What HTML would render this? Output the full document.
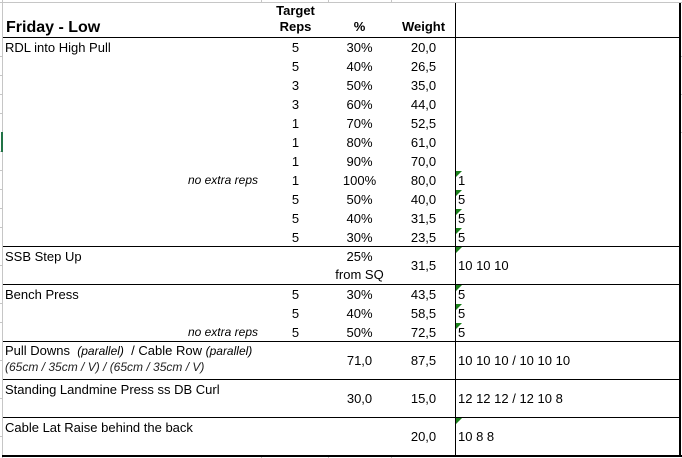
<!DOCTYPE html>
<html><head><meta charset="utf-8">
<style>
html,body{margin:0;padding:0;background:#fff;}
#c{position:relative;width:682px;height:458px;overflow:hidden;background:#fff;}
.t{position:absolute;font-family:"Liberation Sans",Arial,sans-serif;font-size:13px;line-height:19px;white-space:nowrap;color:#000;}
.b{font-weight:bold;}
.i{font-style:italic;}
.r{width:67px;left:262px;text-align:center;}
.p{width:63px;left:328px;text-align:center;}
.w{width:63px;left:392px;text-align:center;}
.x{left:458px;}
.h{position:absolute;height:1px;background:#000;left:3px;width:678px;}
.g{position:absolute;background:#c6c6c6;}
.tri{position:absolute;left:456px;width:0;height:0;border-top:6px solid #1a7f1a;border-right:6px solid transparent;}
</style></head><body>
<div id="c">
<!-- grey grid bits -->
<div class="g" style="left:0;top:2px;width:682px;height:1px;"></div>
<div class="g" style="left:2px;top:0;width:1px;height:458px;"></div>
<div class="g" style="left:261px;top:0;width:1px;height:3px;"></div>
<div class="g" style="left:328px;top:0;width:1px;height:3px;"></div>
<div class="g" style="left:391px;top:0;width:1px;height:3px;"></div>
<div class="g" style="left:261px;top:456px;width:1px;height:2px;"></div>
<div class="g" style="left:328px;top:456px;width:1px;height:2px;"></div>
<div class="g" style="left:391px;top:456px;width:1px;height:2px;"></div>
<div class="g" style="left:0;top:56px;width:3px;height:1px;"></div>
<div class="g" style="left:0;top:75px;width:3px;height:1px;"></div>
<div class="g" style="left:0;top:94px;width:3px;height:1px;"></div>
<div class="g" style="left:0;top:113px;width:3px;height:1px;"></div>
<div class="g" style="left:0;top:151px;width:3px;height:1px;"></div>
<div class="g" style="left:0;top:170px;width:3px;height:1px;"></div>
<div class="g" style="left:0;top:189px;width:3px;height:1px;"></div>
<div class="g" style="left:0;top:208px;width:3px;height:1px;"></div>
<div class="g" style="left:0;top:227px;width:3px;height:1px;"></div>
<div class="g" style="left:0;top:265px;width:3px;height:1px;"></div>
<div class="g" style="left:0;top:303px;width:3px;height:1px;"></div>
<div class="g" style="left:0;top:322px;width:3px;height:1px;"></div>
<div class="g" style="left:0;top:360px;width:3px;height:1px;"></div>
<div class="g" style="left:0;top:398px;width:3px;height:1px;"></div>
<div class="g" style="left:0;top:436px;width:3px;height:1px;"></div>
<div style="position:absolute;left:1px;top:132px;width:2px;height:20px;background:#217346;"></div>
<div class="g" style="left:681px;top:56px;width:1px;height:1px;"></div>
<div class="g" style="left:681px;top:94px;width:1px;height:1px;"></div>
<div class="g" style="left:681px;top:132px;width:1px;height:1px;"></div>

<!-- black lines -->
<div class="h" style="top:37px;"></div>
<div class="h" style="top:246px;"></div>
<div class="h" style="top:284px;"></div>
<div class="h" style="top:341px;"></div>
<div class="h" style="top:379px;"></div>
<div class="h" style="top:417px;"></div>
<div class="h" style="top:455px;height:2px;width:681px;left:2px;"></div>
<div style="position:absolute;left:455px;top:3px;width:1px;height:453px;background:#000;"></div>
<div style="position:absolute;left:679px;top:3px;width:2px;height:454px;background:#000;"></div>

<!-- header -->
<div class="t b" style="left:6px;top:18px;font-size:16px;">Friday - Low</div>
<div class="t b r" style="top:3px;line-height:16px;">Target<br>Reps</div>
<div class="t b p" style="top:19px;line-height:16px;">%</div>
<div class="t b w" style="top:19px;line-height:16px;">Weight</div>

<!-- RDL -->
<div class="t" style="left:5px;top:38px;">RDL into High Pull</div>
<div class="t r" style="top:38px;">5</div><div class="t p" style="top:38px;">30%</div><div class="t w" style="top:38px;">20,0</div>
<div class="t r" style="top:57px;">5</div><div class="t p" style="top:57px;">40%</div><div class="t w" style="top:57px;">26,5</div>
<div class="t r" style="top:76px;">3</div><div class="t p" style="top:76px;">50%</div><div class="t w" style="top:76px;">35,0</div>
<div class="t r" style="top:95px;">3</div><div class="t p" style="top:95px;">60%</div><div class="t w" style="top:95px;">44,0</div>
<div class="t r" style="top:114px;">1</div><div class="t p" style="top:114px;">70%</div><div class="t w" style="top:114px;">52,5</div>
<div class="t r" style="top:133px;">1</div><div class="t p" style="top:133px;">80%</div><div class="t w" style="top:133px;">61,0</div>
<div class="t r" style="top:152px;">1</div><div class="t p" style="top:152px;">90%</div><div class="t w" style="top:152px;">70,0</div>
<div class="t i" style="top:171px;left:150px;width:108px;text-align:right;font-size:12px;">no extra reps</div>
<div class="t r" style="top:171px;">1</div><div class="t p" style="top:171px;">100%</div><div class="t w" style="top:171px;">80,0</div>
<div class="tri" style="top:171px;"></div><div class="t x" style="top:171px;">1</div>
<div class="t r" style="top:190px;">5</div><div class="t p" style="top:190px;">50%</div><div class="t w" style="top:190px;">40,0</div>
<div class="tri" style="top:190px;"></div><div class="t x" style="top:190px;">5</div>
<div class="t r" style="top:209px;">5</div><div class="t p" style="top:209px;">40%</div><div class="t w" style="top:209px;">31,5</div>
<div class="tri" style="top:209px;"></div><div class="t x" style="top:209px;">5</div>
<div class="t r" style="top:228px;">5</div><div class="t p" style="top:228px;">30%</div><div class="t w" style="top:228px;">23,5</div>
<div class="tri" style="top:228px;"></div><div class="t x" style="top:228px;">5</div>

<!-- SSB -->
<div class="t" style="left:5px;top:247px;">SSB Step Up</div>
<div class="t p" style="top:248px;line-height:18px;">25%<br>from SQ</div>
<div class="t w" style="top:256px;">31,5</div>
<div class="tri" style="top:247px;"></div><div class="t x" style="top:256px;">10 10 10</div>

<!-- Bench -->
<div class="t" style="left:5px;top:285px;">Bench Press</div>
<div class="t r" style="top:285px;">5</div><div class="t p" style="top:285px;">30%</div><div class="t w" style="top:285px;">43,5</div>
<div class="tri" style="top:285px;"></div><div class="t x" style="top:285px;">5</div>
<div class="t r" style="top:304px;">5</div><div class="t p" style="top:304px;">40%</div><div class="t w" style="top:304px;">58,5</div>
<div class="tri" style="top:304px;"></div><div class="t x" style="top:304px;">5</div>
<div class="t i" style="top:323px;left:150px;width:108px;text-align:right;font-size:12px;">no extra reps</div>
<div class="t r" style="top:323px;">5</div><div class="t p" style="top:323px;">50%</div><div class="t w" style="top:323px;">72,5</div>
<div class="tri" style="top:323px;"></div><div class="t x" style="top:323px;">5</div>

<!-- Pull downs -->
<div class="t" style="left:5px;top:341px;">Pull Downs&nbsp; <span class="i" style="font-size:12px;">(parallel)</span>&nbsp; / Cable Row <span class="i" style="font-size:12px;">(parallel)</span></div>
<div class="t i" style="left:5px;top:358px;font-size:12px;color:#222;">(65cm / 35cm / V) / (65cm / 35cm / V)</div>
<div class="t p" style="top:351px;">71,0</div>
<div class="t w" style="top:351px;">87,5</div>
<div class="t x" style="top:351px;">10 10 10 / 10 10 10</div>

<!-- Standing -->
<div class="t" style="left:5px;top:380px;">Standing Landmine Press ss DB Curl</div>
<div class="t p" style="top:389px;">30,0</div>
<div class="t w" style="top:389px;">15,0</div>
<div class="t x" style="top:389px;">12 12 12 / 12 10 8</div>

<!-- Cable -->
<div class="t" style="left:5px;top:418px;">Cable Lat Raise behind the back</div>
<div class="t w" style="top:427px;">20,0</div>
<div class="tri" style="top:418px;"></div><div class="t x" style="top:427px;">10 8 8</div>
</div>
</body></html>
